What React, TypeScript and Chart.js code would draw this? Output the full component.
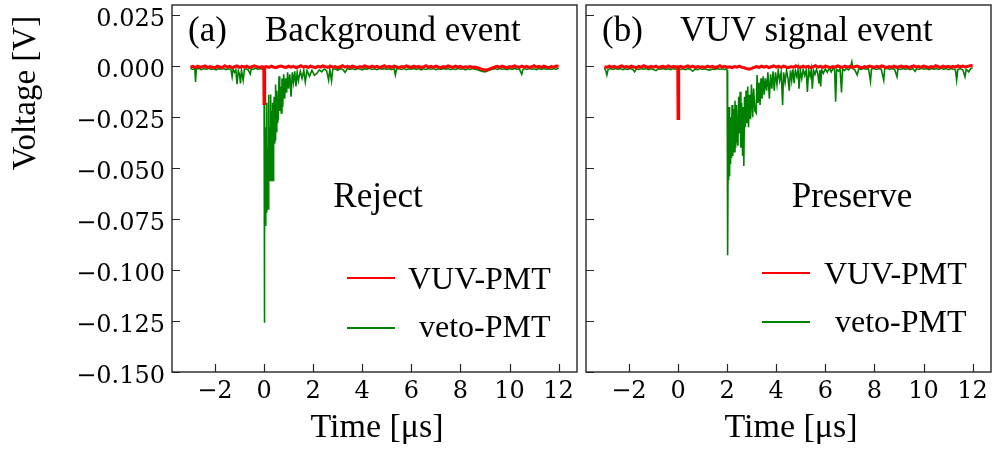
import React, { useEffect, useRef } from "react";
import { Chart, registerables } from "chart.js";
Chart.register(...registerables);

// ---------------- data ----------------
const xTicks = [-2, 0, 2, 4, 6, 8, 10, 12];
const yTicks = [-0.15, -0.125, -0.1, -0.075, -0.05, -0.025, 0, 0.025];
const X_MIN = -3.75;
const X_MAX = 12.75;
const Y_MIN = -0.15;
const Y_MAX = 0.03;
const seriesNames = ["VUV-PMT", "veto-PMT"];
const panelTags = ["(a)", "(b)"];
const panelTitles = ["Background event", "VUV signal event"];
const panelNotes = ["Reject", "Preserve"];
const xTitle = "Time [\u03bcs]";
const yTitle = "Voltage [V]";

// VUV-PMT time base (µs), shared by both panels
const timeVUV = [
  -3.0, -2.9, -2.8, -2.7, -2.6, -2.5, -2.4, -2.3, -2.2, -2.1,
  -2.0, -1.9, -1.8, -1.7, -1.6, -1.5, -1.4, -1.3, -1.2, -1.1,
  -1.0, -0.9, -0.8, -0.7, -0.6, -0.5, -0.4, -0.3, -0.2, -0.1,
  -0.01, 0.0, 0.02, 0.03,
  0.1, 0.2, 0.3, 0.4, 0.5, 0.6, 0.7, 0.8, 0.9, 1.0,
  1.1, 1.2, 1.3, 1.4, 1.5, 1.6, 1.7, 1.8, 1.9, 2.0,
  2.1, 2.2, 2.3, 2.4, 2.5, 2.6, 2.7, 2.8, 2.9, 3.0,
  3.1, 3.2, 3.3, 3.4, 3.5, 3.6, 3.7, 3.8, 3.9, 4.0,
  4.1, 4.2, 4.3, 4.4, 4.5, 4.6, 4.7, 4.8, 4.9, 5.0,
  5.1, 5.2, 5.3, 5.4, 5.5, 5.6, 5.7, 5.8, 5.9, 6.0,
  6.1, 6.2, 6.3, 6.4, 6.5, 6.6, 6.7, 6.8, 6.9, 7.0,
  7.1, 7.2, 7.3, 7.4, 7.5, 7.6, 7.7, 7.8, 7.9, 8.0,
  8.1, 8.2, 8.3, 8.4, 8.5, 8.6, 8.7, 8.8, 8.9, 9.0,
  9.1, 9.2, 9.3, 9.4, 9.5, 9.6, 9.7, 9.8, 9.9, 10.0,
  10.1, 10.2, 10.3, 10.4, 10.5, 10.6, 10.7, 10.8, 10.9, 11.0,
  11.1, 11.2, 11.3, 11.4, 11.5, 11.6, 11.7, 11.8, 11.9, 12.0,
];

// (a) VUV-PMT voltage (V)
const voltA_vuv = [
  -0.0005, -0.0001, -0.0007, 0.0, -0.0006, -0.0002, 0.0001, -0.0007, -0.0002, -0.0005,
  -0.0008, 0.0, -0.0004, -0.0006, 0.0002, -0.0005, -0.0001, -0.0007, -0.0003, 0.0001,
  -0.0006, -0.0001, -0.0005, 0.0, -0.0007, -0.0003, 0.0002, -0.0002, -0.0006, -0.0003,
  -0.0004, -0.0183, -0.0183, -0.0005,
  -0.0002, -0.0006, 0.0, -0.0005, -0.0007, -0.0001, 0.0001, -0.0004, -0.0006, 0.0,
  -0.0005, -0.0001, -0.0007, -0.0003, 0.0002, -0.0005, -0.0001, -0.0006, 0.0, -0.0004,
  -0.0007, -0.0001, -0.0005, 0.0001, -0.0003, -0.0006, 0.0, -0.0005, -0.0002, -0.0007,
  -0.0003, 0.0002, -0.0005, -0.0001, -0.0006, 0.0, -0.0004, -0.0007, -0.0002, -0.0005,
  0.0001, -0.0003, -0.0006, 0.0, -0.0005, -0.0001, -0.0007, -0.0003, 0.0002, -0.0005,
  -0.0001, -0.0006, 0.0, -0.0004, -0.0007, -0.0002, -0.0005, 0.0001, -0.0003, -0.0006,
  0.0, -0.0005, -0.0001, -0.0007, -0.0003, 0.0002, -0.0005, -0.0001, -0.0006, 0.0,
  -0.0004, -0.0007, -0.0002, -0.0005, 0.0001, -0.0003, -0.0006, 0.0, -0.0005, -0.0001,
  -0.0007, -0.0003, -0.0005, -0.0002, -0.0006, -0.0004, -0.0008, -0.0012, -0.0016, -0.0019,
  -0.0018, -0.0013, -0.0008, -0.0004, -0.0001, -0.0006, 0.0, -0.0004, -0.0007, -0.0002,
  -0.0005, 0.0001, -0.0003, -0.0006, 0.0, -0.0005, -0.0001, -0.0007, -0.0003, 0.0002,
  -0.0005, -0.0001, -0.0006, 0.0, -0.0004, -0.0007, -0.0002, -0.0005, 0.0001, 0.0,
];

// (b) VUV-PMT voltage (V)
const voltB_vuv = [
  -0.0003, -0.0006, 0.0, -0.0005, -0.0001, -0.0007, -0.0003, 0.0001, -0.0005, -0.0002,
  -0.0006, 0.0, -0.0004, -0.0007, -0.0001, -0.0005, 0.0002, -0.0003, -0.0006, -0.0001,
  -0.0005, 0.0, -0.0007, -0.0003, -0.0001, -0.0006, 0.0001, -0.0005, -0.0002, -0.0003,
  -0.0004, -0.0257, -0.0257, -0.0004,
  -0.0001, -0.0006, -0.0003, 0.0001, -0.0005, 0.0, -0.0007, -0.0002, -0.0005, -0.0003,
  -0.0006, 0.0, -0.0005, -0.0001, -0.0007, -0.0003, 0.0002, -0.0005, -0.0001, -0.0006,
  -0.0003, -0.0007, -0.0002, -0.0005, 0.0, -0.0006, -0.0008, -0.0012, -0.0015, -0.0011,
  -0.0006, -0.0002, -0.0006, 0.0, -0.0005, -0.0001, -0.0007, -0.0003, 0.0001, -0.0005,
  -0.0001, -0.0006, 0.0, -0.0004, -0.0007, -0.0002, -0.0005, 0.0001, -0.0003, -0.0006,
  0.0, -0.0005, -0.0001, -0.0007, -0.0003, 0.0002, -0.0005, -0.0001, -0.0006, 0.0,
  -0.0003, -0.0007, -0.0002, -0.0005, 0.0001, -0.0003, -0.0006, 0.0, -0.0005, -0.0001,
  -0.0006, -0.0003, 0.0, -0.0005, -0.0007, -0.0002, -0.0005, 0.0, -0.0003, -0.0006,
  -0.0001, -0.0005, 0.0001, -0.0003, -0.0007, -0.0002, -0.0005, 0.0, -0.0006, -0.0003,
  0.0, -0.0005, -0.0001, -0.0007, -0.0003, 0.0001, -0.0005, -0.0001, -0.0006, 0.0,
  -0.0003, -0.0007, -0.0002, -0.0005, 0.0002, -0.0003, -0.0006, 0.0, -0.0005, -0.0001,
  -0.0006, -0.0001, -0.0005, 0.0001, -0.0003, 0.0, -0.0004, -0.0001, 0.0002, 0.0003,
];

// (a) veto-PMT
const timeA_veto = [
  -3.0, -2.9, -2.82, -2.79, -2.76, -2.65, -2.55, -2.45, -2.35, -2.25,
  -2.15, -2.05, -1.95, -1.85, -1.75, -1.65, -1.55, -1.45, -1.35, -1.3,
  -1.26, -1.2, -1.15, -1.1, -1.05, -1.0, -0.96, -0.92, -0.85, -0.8,
  -0.72, -0.65, -0.56, -0.52, -0.45, -0.35, -0.25, -0.15, -0.06, 0.0,
  0.01, 0.03, 0.05, 0.07, 0.09, 0.11, 0.13, 0.15, 0.17, 0.19,
  0.21, 0.23, 0.25, 0.27, 0.29, 0.31, 0.33, 0.35, 0.37, 0.39,
  0.41, 0.43, 0.45, 0.47, 0.49,
  0.52, 0.55, 0.58, 0.61, 0.64, 0.67, 0.7, 0.73, 0.76,
  0.8, 0.84, 0.88, 0.92, 0.96, 1.0,
  1.05, 1.1, 1.15, 1.2, 1.25, 1.3, 1.35, 1.4,
  1.48, 1.55, 1.62, 1.68, 1.75, 1.85, 1.95,
  2.05, 2.15, 2.25, 2.35, 2.45, 2.55, 2.63, 2.68, 2.75, 2.8,
  2.9, 3.0, 3.1, 3.2, 3.3, 3.4, 3.5, 3.6, 3.7, 3.8,
  3.9, 4.0, 4.1, 4.2, 4.3, 4.4, 4.5, 4.6, 4.7, 4.8,
  4.9, 5.0, 5.1, 5.2, 5.3,
  5.35, 5.4,
  5.5, 5.6, 5.7, 5.8, 5.9, 6.0, 6.1, 6.2, 6.3, 6.4,
  6.5, 6.6, 6.7, 6.8, 6.9, 7.0, 7.1, 7.2, 7.3, 7.4,
  7.5, 7.6, 7.7, 7.8, 7.9, 8.0, 8.1, 8.2, 8.3, 8.4,
  8.5, 8.6, 8.7, 8.8, 8.9, 9.0, 9.1, 9.2, 9.3, 9.4,
  9.5, 9.6, 9.7, 9.8, 9.9, 10.0, 10.1, 10.2, 10.3, 10.4,
  10.5, 10.55,
  10.6, 10.7, 10.8, 10.9, 11.0, 11.1, 11.2, 11.3, 11.4, 11.5,
  11.6, 11.7, 11.8, 11.9, 12.0,
];
const voltA_veto = [
  -0.001, -0.0016, -0.0012, -0.0077, -0.0014, -0.0011, -0.0017, -0.0012, -0.0015, -0.001,
  -0.0016, -0.0013, -0.0018, -0.0012, -0.0015, -0.0011, -0.0017, -0.0013, -0.0016, -0.0052,
  -0.0015, -0.003, -0.0018, -0.0088, -0.0022, -0.004, -0.0085, -0.002, -0.0069, -0.0016,
  -0.0013, -0.0018, -0.0039, -0.0012, -0.0016, -0.001, -0.0015, -0.0012, -0.0016, -0.002,
  -0.1258, -0.02, -0.078, -0.03, -0.0715, -0.018, -0.065, -0.04, -0.07, -0.014,
  -0.052, -0.03, -0.056, -0.0139, -0.048, -0.022, -0.056, -0.018, -0.056, -0.041,
  -0.015, -0.038, -0.036, -0.009, -0.032,
  -0.012, -0.028, -0.025, -0.005, -0.022, -0.01, -0.023, -0.006, -0.02,
  -0.004, -0.016, -0.006, -0.013, -0.003, -0.011,
  -0.004, -0.015, -0.003, -0.008, -0.0025, -0.01, -0.003, -0.007,
  -0.0025, -0.006, -0.002, -0.0077, -0.0022, -0.005, -0.002,
  -0.0045, -0.0036, -0.0018, -0.0028, -0.0014, -0.0022, -0.0069, -0.0015, -0.0072, -0.0016,
  -0.0013, -0.002, -0.0012, -0.0015, -0.003, -0.0011, -0.0016, -0.0012, -0.0017, -0.0011,
  -0.0014, -0.0018, -0.0012, -0.0015, -0.001, -0.0016, -0.0013, -0.0017, -0.0011, -0.0015,
  -0.0012, -0.0016, -0.0013, -0.0017, -0.0012,
  -0.0044, -0.0014,
  -0.0011, -0.0016, -0.0012, -0.0017, -0.0013, -0.0015, -0.0011, -0.0016, -0.0012, -0.0018,
  -0.0013, -0.0016, -0.0011, -0.0015, -0.0012, -0.0017, -0.0013, -0.0016, -0.0011, -0.0015,
  -0.0012, -0.0017, -0.0013, -0.0016, -0.0011, -0.0015, -0.0012, -0.0018, -0.0013, -0.0016,
  -0.0012, -0.0015, -0.0018, -0.0022, -0.0026, -0.0028, -0.0024, -0.0019, -0.0015, -0.0012,
  -0.0016, -0.0011, -0.0015, -0.0013, -0.0017, -0.0012, -0.0016, -0.0011, -0.0015, -0.0013,
  -0.004, -0.0016,
  -0.0012, -0.0016, -0.0011, -0.0015, -0.0013, -0.0017, -0.0012, -0.0016, -0.0011, -0.0015,
  -0.0013, -0.0016, -0.0012, -0.0015, -0.001,
];

// (b) veto-PMT
const timeB_veto = [
  -3.0, -2.95, -2.9, -2.85, -2.75, -2.65, -2.55, -2.45, -2.35, -2.25,
  -2.15, -2.05, -1.95, -1.85, -1.77,
  -1.7, -1.6, -1.5, -1.4, -1.3, -1.2, -1.1, -1.0, -0.9, -0.8,
  -0.7, -0.6, -0.5, -0.4, -0.3, -0.2, -0.1, 0.0, 0.1, 0.2,
  0.3, 0.4, 0.5, 0.6, 0.7, 0.8, 0.9, 1.0, 1.1, 1.2,
  1.3, 1.4, 1.5, 1.6, 1.7, 1.8, 1.9,
  1.96, 2.0, 2.02, 2.04, 2.06, 2.08, 2.1, 2.12, 2.14, 2.16,
  2.18, 2.2, 2.23, 2.26, 2.29, 2.32, 2.35, 2.38, 2.41, 2.44,
  2.47, 2.5, 2.53, 2.56, 2.59, 2.63, 2.66, 2.68, 2.71, 2.74,
  2.77, 2.8, 2.84, 2.87, 2.91, 2.95, 2.99, 3.04, 3.08, 3.13,
  3.18, 3.22, 3.26, 3.3, 3.34, 3.38, 3.42, 3.47, 3.51, 3.56,
  3.61, 3.66, 3.72, 3.77, 3.82, 3.87, 3.92, 3.97, 4.03, 4.08,
  4.14, 4.2, 4.26, 4.3, 4.36, 4.42, 4.48, 4.53, 4.58, 4.63,
  4.68, 4.73, 4.78, 4.84, 4.89, 4.93, 4.98, 5.04, 5.1, 5.16,
  5.22, 5.27, 5.32, 5.38, 5.43, 5.47, 5.52, 5.58, 5.64, 5.69,
  5.74, 5.78, 5.81, 5.85, 5.92, 6.0, 6.08, 6.16, 6.24, 6.32,
  6.38, 6.42, 6.46, 6.54, 6.6, 6.66, 6.7, 6.78, 6.86, 6.94,
  7.02, 7.08, 7.12, 7.2, 7.3, 7.36, 7.46, 7.56, 7.66, 7.76,
  7.84, 7.88, 7.98, 8.08, 8.18, 8.28, 8.38, 8.42, 8.52, 8.62,
  8.72, 8.82, 8.92, 8.96, 9.06, 9.16, 9.26, 9.36, 9.46, 9.56,
  9.66, 9.72, 9.82, 9.92, 10.02, 10.12, 10.22, 10.32, 10.42, 10.52,
  10.62, 10.72, 10.82, 10.92, 11.02, 11.12, 11.22, 11.3, 11.35, 11.4,
  11.5, 11.6, 11.69, 11.74, 11.84, 11.92, 12.0,
];
const voltB_veto = [
  -0.001, -0.002, -0.0044, -0.0017, -0.0012, -0.0016, -0.0011, -0.0015, -0.0012, -0.0017,
  -0.0013, -0.0016, -0.0011, -0.0015, -0.0028,
  -0.0013, -0.0016, -0.0011, -0.0015, -0.0012, -0.0017, -0.0013, -0.0016, -0.0022, -0.0012,
  -0.0015, -0.0011, -0.0016, -0.0013, -0.0017, -0.0012, -0.0015, -0.0011, -0.0016, -0.0013,
  -0.0017, -0.0012, -0.0015, -0.0025, -0.0014, -0.0017, -0.0012, -0.0016, -0.0013, -0.0017,
  -0.002, -0.0014, -0.0016, -0.0012, -0.0015, -0.0013, -0.0016,
  -0.0014, -0.002, -0.0927, -0.044, -0.056, -0.02, -0.054, -0.03, -0.048, -0.025,
  -0.045, -0.019, -0.044, -0.021, -0.042, -0.017, -0.04, -0.019, -0.036, -0.039,
  -0.015, -0.033, -0.0126, -0.04, -0.018, -0.044, -0.02, -0.049, -0.015, -0.03,
  -0.012, -0.028, -0.01, -0.03, -0.014, -0.026, -0.009, -0.025, -0.011, -0.022,
  -0.023, -0.0044, -0.018, -0.008, -0.019, -0.006, -0.016, -0.005, -0.014, -0.006,
  -0.012, -0.003, -0.016, -0.004, -0.011, -0.0025, -0.012, -0.003, -0.009, -0.002,
  -0.007, -0.003, -0.019, -0.003, -0.008, -0.002, -0.006, -0.012, -0.002, -0.007,
  -0.0015, -0.0084, -0.002, -0.005, -0.0015, -0.011, -0.002, -0.006, -0.0015, -0.0045,
  -0.002, -0.0126, -0.0018, -0.005, -0.0015, -0.011, -0.002, -0.004, -0.0015, -0.0035,
  -0.0084, -0.002, -0.01, -0.0018, -0.0035, -0.0012, -0.003, -0.001, -0.0028, -0.0008,
  -0.002, -0.0175, -0.0015, -0.0025, -0.0012, -0.0129, -0.0014, -0.0022, -0.001, -0.0018,
  -0.0008, 0.0021, -0.0012, -0.0018, -0.0044, -0.0012, -0.0016, -0.001, -0.0015, -0.0012,
  -0.0074, -0.0014, -0.0011, -0.0016, -0.0012, -0.0015, -0.0069, -0.0013, -0.001, -0.0016,
  -0.0012, -0.0015, -0.0052, -0.0012, -0.0016, -0.0011, -0.0015, -0.0012, -0.0017, -0.0011,
  -0.0025, -0.0012, -0.0016, -0.001, -0.0015, -0.0012, -0.0017, -0.0011, -0.0015, -0.0012,
  -0.0016, -0.001, -0.0015, -0.0012, -0.0017, -0.0011, -0.0015, -0.0018, -0.0069, -0.0016,
  -0.0012, -0.0018, -0.0052, -0.0015, -0.0028, -0.0012, -0.0008,
];

// ---------------- styling ----------------
const RED = "#ff0000";
const GREEN = "#008000";
const AXIS_COLOR = "#262626";
const TICK_FONT = "'DejaVu Serif', serif";
const TEXT_FONT = "'Liberation Serif', 'Times New Roman', serif";

type PanelLayout = {
  index: number;
  width: number;
  padLeft: number;
  padRight: number;
  yWidth: number;
  showYLabels: boolean;
  tagX: number;
  titleX: number;
  noteCX: number;
  legLine: [number, number];
  legY: [number, number];
  legTextX: [number, number];
  legBase: [number, number];
  xTitleCX: number;
};

const layoutA: PanelLayout = {
  index: 0, width: 580, padLeft: 0, padRight: 3, yWidth: 172, showYLabels: true,
  tagX: 188, titleX: 265, noteCX: 378,
  legLine: [347, 395], legY: [278, 328], legTextX: [408, 419], legBase: [289, 337],
  xTitleCX: 377,
};
const layoutB: PanelLayout = {
  index: 1, width: 417, padLeft: 6, padRight: 6, yWidth: 0, showYLabels: false,
  tagX: 22, titleX: 100, noteCX: 272,
  legLine: [182, 230], legY: [273, 322], legTextX: [244, 255], legBase: [284, 332],
  xTitleCX: 211,
};

function fmtX(v: number) {
  return v < 0 ? "\u2212" + Math.abs(v) : String(v);
}
function fmtY(v: number) {
  const s = Math.abs(v).toFixed(3);
  return v < -1e-9 ? "\u2212" + s : s;
}

function overlayPlugin(L: PanelLayout) {
  return {
    id: "overlay" + L.index,
    afterDraw(chart: any) {
      const ctx: CanvasRenderingContext2D = chart.ctx;
      const a = chart.chartArea;
      const xs = chart.scales.x;
      const ys = chart.scales.y;
      ctx.save();
      // inward ticks
      ctx.strokeStyle = AXIS_COLOR;
      ctx.lineWidth = 1.2;
      ctx.beginPath();
      xTicks.forEach((v) => {
        const p = Math.round(xs.getPixelForValue(v)) + 0.5;
        ctx.moveTo(p, a.bottom);
        ctx.lineTo(p, a.bottom - 8);
      });
      yTicks.forEach((v) => {
        const p = Math.round(ys.getPixelForValue(v)) + 0.5;
        ctx.moveTo(a.left, p);
        ctx.lineTo(a.left + 8, p);
      });
      ctx.stroke();
      // frame
      ctx.lineWidth = 1.4;
      ctx.strokeRect(a.left, a.top, a.right - a.left, a.bottom - a.top);

      // tick labels
      ctx.fillStyle = "#000";
      ctx.font = `24px ${TICK_FONT}`;
      ctx.textAlign = "center";
      ctx.textBaseline = "alphabetic";
      xTicks.forEach((v) => {
        ctx.fillText(fmtX(v), xs.getPixelForValue(v), 398);
      });
      if (L.showYLabels) {
        ctx.font = `24px ${TICK_FONT}`;
        ctx.textAlign = "right";
        yTicks.forEach((v) => {
          ctx.fillText(fmtY(v), a.left - 7, ys.getPixelForValue(v) + 10.5);
        });
      }

      // panel title
      ctx.font = `35px ${TEXT_FONT}`;
      ctx.textAlign = "left";
      ctx.fillText(panelTags[L.index], L.tagX, 41);
      ctx.fillText(panelTitles[L.index], L.titleX, 41);
      ctx.textAlign = "center";
      ctx.fillText(panelNotes[L.index], L.noteCX, 207);

      // legend
      const colors = [RED, GREEN];
      for (let i = 0; i < 2; i++) {
        ctx.strokeStyle = colors[i];
        ctx.lineWidth = 2;
        ctx.beginPath();
        ctx.moveTo(L.legLine[0], L.legY[i]);
        ctx.lineTo(L.legLine[1], L.legY[i]);
        ctx.stroke();
        ctx.font = `32px ${TEXT_FONT}`;
        ctx.textAlign = "left";
        ctx.fillStyle = "#000";
        ctx.fillText(seriesNames[i], L.legTextX[i], L.legBase[i]);
      }

      // axis titles
      ctx.font = `34px ${TEXT_FONT}`;
      ctx.textAlign = "center";
      ctx.fillText(xTitle, L.xTitleCX, 437);
      if (L.showYLabels) {
        ctx.save();
        ctx.translate(35, 93);
        ctx.rotate(-Math.PI / 2);
        ctx.font = `33px ${TEXT_FONT}`;
        ctx.textAlign = "center";
        ctx.fillText(yTitle, 0, 0);
        ctx.restore();
      }
      ctx.restore();
    },
  };
}

function toPoints(t: number[], v: number[]) {
  return t.map((x, i) => ({ x, y: v[i] }));
}

function makeConfig(L: PanelLayout, vuv: number[], vetoT: number[], vetoV: number[]): any {
  return {
    type: "line",
    data: {
      datasets: [
        {
          label: seriesNames[0],
          data: toPoints(timeVUV, vuv),
          borderColor: RED,
          borderWidth: 3,
          pointRadius: 0,
          tension: 0,
          fill: false,
        },
        {
          label: seriesNames[1],
          data: toPoints(vetoT, vetoV),
          borderColor: GREEN,
          borderWidth: 1.6,
          pointRadius: 0,
          tension: 0,
          fill: false,
        },
      ],
    },
    options: {
      responsive: false,
      animation: false,
      devicePixelRatio: 1,
      events: [],
      layout: { padding: { left: L.padLeft, right: L.padRight, top: 5, bottom: 0 } },
      plugins: { legend: { display: false }, tooltip: { enabled: false } },
      scales: {
        x: {
          type: "linear",
          min: X_MIN,
          max: X_MAX,
          grid: { display: false, drawTicks: false },
          border: { display: false },
          ticks: { display: false },
          afterFit: (s: any) => {
            s.height = 81;
          },
        },
        y: {
          type: "linear",
          min: Y_MIN,
          max: Y_MAX,
          display: L.yWidth > 0,
          grid: { display: false, drawTicks: false },
          border: { display: false },
          ticks: { display: false },
          afterFit: (s: any) => {
            s.width = L.yWidth;
          },
        },
      },
    },
    plugins: [overlayPlugin(L)],
  };
}

export default function App() {
  const refA = useRef<HTMLCanvasElement>(null);
  const refB = useRef<HTMLCanvasElement>(null);

  useEffect(() => {
    const cA = new Chart(refA.current as HTMLCanvasElement, makeConfig(layoutA, voltA_vuv, timeA_veto, voltA_veto));
    const cB = new Chart(refB.current as HTMLCanvasElement, makeConfig(layoutB, voltB_vuv, timeB_veto, voltB_veto));
    return () => {
      cA.destroy();
      cB.destroy();
    };
  }, []);

  return (
    <div style={{ position: "absolute", left: 0, top: 0, width: 997, height: 453, background: "#fff", overflow: "hidden" }}>
      <canvas ref={refA} width={580} height={453} style={{ position: "absolute", left: 0, top: 0, width: 580, height: 453 }} />
      <canvas ref={refB} width={417} height={453} style={{ position: "absolute", left: 580, top: 0, width: 417, height: 453 }} />
    </div>
  );
}
